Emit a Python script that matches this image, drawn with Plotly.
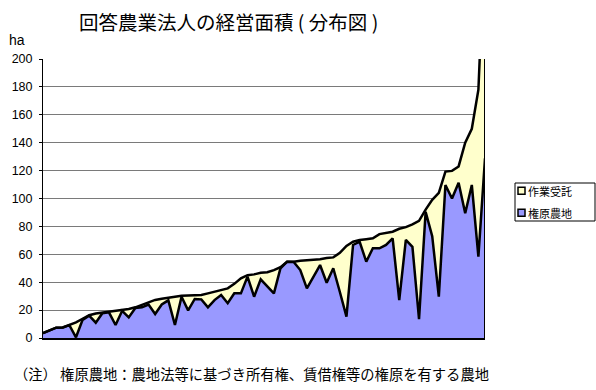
import plotly.graph_objects as go

# 回答法人（経営面積の小さい順）ごとの面積 (ha)
kengen = [3.5, 5.5, 7.4, 7.6, 9.2, 0.5, 13.0, 16.0, 11.0, 17.8,
          18.4, 9.3, 19.5, 14.8, 21.5, 22.0, 24.0, 17.2, 24.0, 27.0,
          9.3, 29.6, 19.8, 28.0, 27.7, 22.0, 27.2, 30.8, 24.9, 32.0,
          32.0, 44.0, 29.6, 42.0, 37.0, 32.0, 50.0, 54.7, 54.5, 48.7,
          35.6, 44.0, 52.3, 39.6, 50.0, 33.0, 15.3, 66.7, 69.0, 54.7,
          64.3, 64.3, 66.7, 71.5, 27.2, 70.3, 65.4, 13.5, 90.5, 73.0,
          29.6, 109.7, 100.0, 111.3, 89.4, 109.7, 58.3, 128.8]
jutaku = [0.0, 0.0, 0.0, 0.0, 0.0, 10.7, 0.8, 0.3, 6.6, 0.4,
          0.4, 10.0, 0.4, 6.0, 0.5, 1.6, 1.6, 10.1, 4.2, 2.0,
          20.4, 0.6, 10.6, 2.6, 3.1, 10.0, 6.0, 3.3, 10.7, 6.8,
          10.8, 1.0, 16.0, 4.8, 10.1, 16.7, 0.8, 0.0, 0.2, 6.7,
          20.1, 11.9, 4.1, 17.7, 7.8, 28.0, 50.7, 2.3, 1.2, 16.1,
          7.2, 10.2, 8.8, 4.7, 51.1, 9.2, 16.1, 70.5, 1.5, 26.0,
          74.4, 9.6, 19.8, 11.7, 50.6, 40.3, 119.7, 161.2]
corp = list(range(1, len(kengen) + 1))

series_names = ["権原農地", "作業受託"]
series_colors = ["#9999FF", "#FFFFCC"]
y_ticks = list(range(0, 201, 20))

title_text = "回答農業法人の経営面積 ( 分布図 )"
unit_text = "ha"
note_text = "（注） 権原農地：農地法等に基づき所有権、賃借権等の権原を有する農地"

JP = "Noto Sans CJK JP"
NUM = "Liberation Sans, Arial, sans-serif"

fig = go.Figure()
for vals, name, color in zip([kengen, jutaku], series_names, series_colors):
    fig.add_trace(go.Scatter(
        x=corp, y=vals, name=name, mode="lines",
        stackgroup="area", fillcolor=color,
        line=dict(color="black", width=2.5, shape="linear"),
        showlegend=False, hoverinfo="skip",
    ))

# right-hand edge of the stacked area
total_last = kengen[-1] + jutaku[-1]
fig.add_trace(go.Scatter(
    x=[corp[-1], corp[-1]], y=[0, total_last], mode="lines",
    line=dict(color="black", width=2), showlegend=False, hoverinfo="skip",
))

# plot-area geometry in pixels, used for placing the legend box and notes
W, H = 596, 390
L, R, T, B = 43, 111, 59, 52
pw, ph = W - L - R, H - T - B


def px(x):
    return (x - L) / pw


def py(y):
    return (H - B - y) / ph


shapes = [dict(type="rect", xref="paper", yref="paper",
               x0=px(515), x1=px(595), y0=py(221), y1=py(183),
               line=dict(color="black", width=1), fillcolor="white")]
annotations = []
legend_rows = [(series_names[1], series_colors[1], 190.7),
               (series_names[0], series_colors[0], 212.7)]
for name, color, yc in legend_rows:
    shapes.append(dict(type="rect", xref="paper", yref="paper",
                       x0=px(518), x1=px(525), y0=py(yc + 3.5), y1=py(yc - 3.5),
                       line=dict(color="black", width=1.5), fillcolor=color))
    annotations.append(dict(text=name, xref="paper", yref="paper",
                            x=px(526), y=py(yc), xanchor="left", yanchor="middle",
                            showarrow=False, font=dict(family=JP, size=11, color="black")))

annotations += [
    dict(text=title_text, xref="paper", yref="paper", x=px(228), y=py(22),
         xanchor="center", yanchor="middle", showarrow=False,
         font=dict(family=JP, size=19.5, color="black")),
    dict(text=unit_text, xref="paper", yref="paper", x=px(7), y=py(40),
         xanchor="left", yanchor="middle", showarrow=False,
         font=dict(family=NUM, size=14, color="black")),
    dict(text=note_text, xref="paper", yref="paper", x=px(12), y=py(374),
         xanchor="left", yanchor="middle", showarrow=False,
         font=dict(family=JP, size=14.3, color="black")),
]

fig.update_layout(
    width=W, height=H,
    margin=dict(l=L, r=R, t=T, b=B, pad=0),
    paper_bgcolor="white", plot_bgcolor="white",
    showlegend=False,
    shapes=shapes, annotations=annotations,
    xaxis=dict(range=[corp[0], corp[-1]], showticklabels=False, showgrid=False,
               zeroline=False, showline=True, linecolor="black", linewidth=2,
               ticks=""),
    yaxis=dict(range=[0, 200], tickvals=y_ticks, showgrid=True,
               gridcolor="#7a7a7a", gridwidth=1, zeroline=False,
               showline=True, linecolor="black", linewidth=1,
               ticks="outside", ticklen=3, tickcolor="black",
               ticklabelstandoff=4,
               tickfont=dict(family=NUM, size=12.5, color="black")),
)

fig.write_html("out.html")
